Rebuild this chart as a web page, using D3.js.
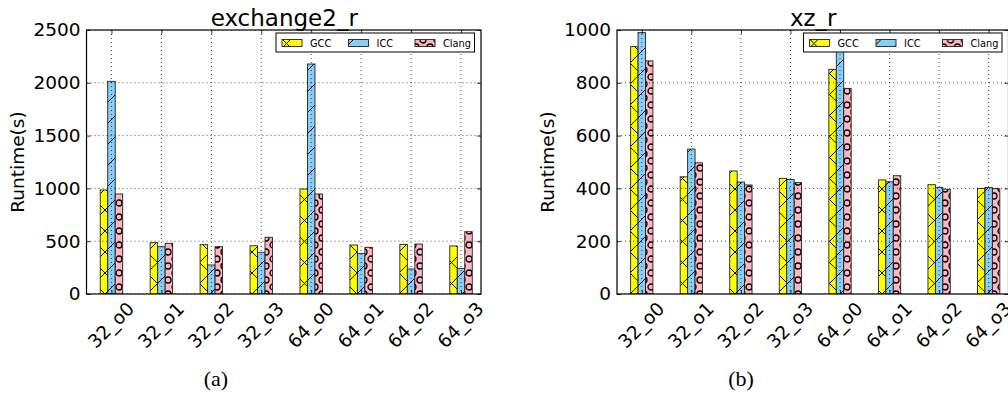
<!DOCTYPE html>
<html>
<head>
<meta charset="utf-8">
<script src="https://cdn.jsdelivr.net/npm/d3@7"></script>
<style>
  body { margin: 0; background: #fff; }
  svg { display: block; }
</style>
</head>
<body>
<div id="chart"></div>
<script>
// categories and series values
const categories = ["32_o0", "32_o1", "32_o2", "32_o3", "64_o0", "64_o1", "64_o2", "64_o3"];
const compilers = ["GCC", "ICC", "Clang"];

const exchangeGcc = [985, 486, 467, 457, 994, 464, 470, 455];
const exchangeIcc = [2014, 448, 275, 395, 2178, 385, 237, 243];
const exchangeClang = [947, 480, 448, 537, 947, 442, 473, 590];

const xzGcc = [937, 444, 466, 438, 851, 432, 414, 400];
const xzIcc = [990, 549, 424, 434, 940, 425, 404, 403];
const xzClang = [883, 497, 413, 422, 779, 448, 397, 399];

const exchangeTicks = [0, 500, 1000, 1500, 2000, 2500];
const xzTicks = [0, 200, 400, 600, 800, 1000];

function run() {
    let W = 1008, H = 417
    let svg = d3.select("#chart").append("svg")
        .attr("width", W)
        .attr("height", H)
        .style("font-family", "'DejaVu Sans', sans-serif");

    // hatches, anchored to the page like matplotlib does
    let defs = svg.append("defs");
    let hx = defs.append("pattern").attr("id", "hatch-GCC")
        .attr("patternUnits", "userSpaceOnUse").attr("width", 21).attr("height", 21);
    hx.append("rect").attr("width", 21).attr("height", 21).attr("fill", "#ffff00");
    hx.append("path").attr("d", "M-2,2 L2,-2 M0,21 L21,0 M19,23 L23,19 M-2,19 L2,23 M0,0 L21,21 M19,-2 L23,2")
        .attr("stroke", "#000").attr("stroke-width", 1).attr("fill", "none");

    let hs = defs.append("pattern").attr("id", "hatch-ICC")
        .attr("patternUnits", "userSpaceOnUse").attr("width", 21).attr("height", 21);
    hs.append("rect").attr("width", 21).attr("height", 21).attr("fill", "#87cefa");
    hs.append("path").attr("d", "M-2,2 L2,-2 M0,21 L21,0 M19,23 L23,19")
        .attr("stroke", "#000").attr("stroke-width", 1).attr("fill", "none");

    let ho = defs.append("pattern").attr("id", "hatch-Clang")
        .attr("patternUnits", "userSpaceOnUse").attr("width", 14).attr("height", 14);
    ho.append("rect").attr("width", 14).attr("height", 14).attr("fill", "#ffb6c1");
    [[0, 0], [14, 0], [0, 14], [14, 14], [7, 7]].forEach(function(c) {
        ho.append("circle").attr("cx", c[0]).attr("cy", c[1]).attr("r", 3)
            .attr("fill", "none").attr("stroke", "#000").attr("stroke-width", 1.3);
    });

    let panels = [
        { title: "exchange2_r", series: [exchangeGcc, exchangeIcc, exchangeClang], ticks: exchangeTicks,
          left: 86.5, right: 481, sub: "(a)", subX: 216 },
        { title: "xz_r", series: [xzGcc, xzIcc, xzClang], ticks: xzTicks,
          left: 617, right: 1008.5, sub: "(b)", subX: 741 }
    ];
    panels.forEach(function(p) { draw_panel(svg, p) });
}

function draw_panel(svg, p) {
    let top = 30, bottom = 294
    let barW = 0.15
    let x = d3.scaleLinear().domain([-0.5, 7.4]).range([p.left, p.right]);
    let y = d3.scaleLinear().domain([0, d3.max(p.ticks)]).range([bottom, top]);
    let g = svg.append("g");

    let clip = "clip-" + p.title;
    svg.select("defs").append("clipPath").attr("id", clip)
        .append("rect").attr("x", p.left).attr("y", top)
        .attr("width", p.right - p.left).attr("height", bottom - top);

    // bars
    let plot = g.append("g").attr("clip-path", "url(#" + clip + ")");
    p.series.forEach(function(vals, s) {
        plot.selectAll(null)
            .data(vals)
            .enter()
            .append("rect")
            .attr("x", function(d, i) { return x(i + (s - 1) * barW - barW / 2); })
            .attr("y", function(d) { return y(d); })
            .attr("width", x(barW) - x(0))
            .attr("height", function(d) { return y(0) - y(d); })
            .attr("fill", "url(#hatch-" + compilers[s] + ")")
            .attr("stroke", "#222")
            .attr("stroke-width", 0.9);
    });

    // grid on top of the bars (old matplotlib default)
    let grid = g.append("g").attr("clip-path", "url(#" + clip + ")")
        .attr("stroke", "#000").attr("stroke-width", 0.7).attr("stroke-dasharray", "1,3");
    grid.selectAll("line.v").data(d3.range(categories.length)).enter().append("line")
        .attr("x1", function(d) { return x(d); }).attr("x2", function(d) { return x(d); })
        .attr("y1", top).attr("y2", bottom);
    grid.selectAll("line.h").data(p.ticks).enter().append("line")
        .attr("x1", p.left).attr("x2", p.right)
        .attr("y1", function(d) { return y(d); }).attr("y2", function(d) { return y(d); });

    // axes, ticks pointing inwards
    let yAxis = d3.axisLeft(y).tickValues(p.ticks).tickFormat(d3.format("d"))
        .tickSizeInner(-4).tickSizeOuter(0).tickPadding(6);
    let ya = g.append("g").attr("transform", "translate(" + p.left + ",0)").call(yAxis);
    ya.selectAll("text").attr("font-size", 18.5).attr("fill", "#000").attr("font-family", "'DejaVu Sans', sans-serif");
    g.append("g").attr("transform", "translate(" + p.right + ",0)")
        .call(d3.axisRight(y).tickValues(p.ticks).tickSizeInner(-4).tickSizeOuter(0).tickFormat(""));

    let xAxis = d3.axisBottom(x).tickValues(d3.range(categories.length))
        .tickFormat(function(i) { return categories[i]; }).tickSizeInner(-4).tickSizeOuter(0);
    let xa = g.append("g").attr("transform", "translate(0," + bottom + ")").call(xAxis);
    xa.selectAll("text")
        .attr("font-size", 18.5).attr("fill", "#000").attr("font-family", "'DejaVu Sans', sans-serif")
        .attr("text-anchor", "middle").attr("y", 0).attr("dy", "0.35em")
        .attr("transform", "translate(-1,31) rotate(-45)");
    g.append("g").attr("transform", "translate(0," + top + ")")
        .call(d3.axisTop(x).tickValues(d3.range(categories.length)).tickSizeInner(-4).tickSizeOuter(0).tickFormat(""));
    g.selectAll(".domain").attr("stroke", "none");
    g.selectAll(".tick line").attr("stroke", "#000").attr("stroke-width", 0.8);

    // frame
    g.append("rect").attr("x", p.left).attr("y", top)
        .attr("width", p.right - p.left).attr("height", bottom - top)
        .attr("fill", "none").attr("stroke", "#000").attr("stroke-width", 1.2);

    // legend
    let lx = p.right - 205, ly = 33
    let leg = g.append("g").attr("transform", "translate(" + lx + "," + ly + ")");
    leg.append("rect").attr("width", 198.5).attr("height", 19)
        .attr("fill", "#fff").attr("stroke", "#000").attr("stroke-width", 1);
    compilers.forEach(function(c, i) {
        let ox = 6 + i * 66.5
        leg.append("rect").attr("x", ox).attr("y", 6.5).attr("width", 20).attr("height", 7)
            .attr("fill", "url(#hatch-" + c + ")").attr("stroke", "#222").attr("stroke-width", 0.9);
        leg.append("text").attr("x", ox + 28).attr("y", 13.5)
            .attr("font-size", 9.8).text(c);
    });

    // titles
    g.append("text").attr("x", (p.left + p.right) / 2 + 0.5).attr("y", 26)
        .attr("text-anchor", "middle").attr("font-size", 23).text(p.title);
    g.append("text")
        .attr("transform", "translate(" + (p.left - 63) + "," + ((top + bottom) / 2) + ") rotate(-90)")
        .attr("text-anchor", "middle").attr("font-size", 18.5).text("Runtime(s)");
    g.append("text").attr("x", p.subX).attr("y", 386)
        .attr("text-anchor", "middle").attr("font-size", 22)
        .attr("font-family", "'Liberation Serif', serif").text(p.sub);
}

window.addEventListener('load', run)
</script>
</body>
</html>
